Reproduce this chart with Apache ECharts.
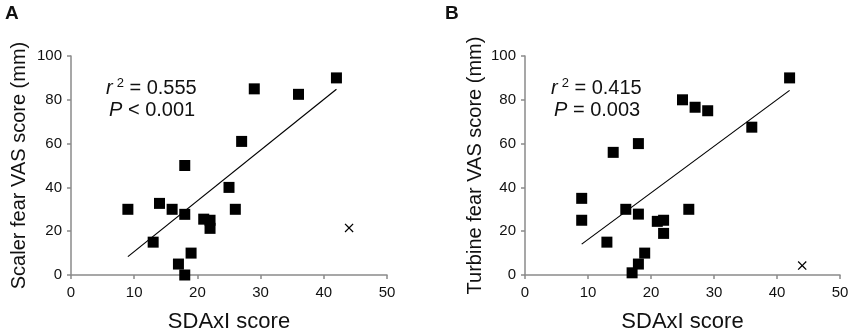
<!DOCTYPE html>
<html>
<head>
<meta charset="utf-8">
<script src="https://cdn.jsdelivr.net/npm/echarts@6/dist/echarts.min.js"></script>
<style>
  html, body { margin: 0; padding: 0; background: #fff; }
  #main { width: 850px; height: 332px; }
</style>
</head>
<body>
<div id="main"></div>
<script>
// panel A - scaler
var sdaxiA = [9, 14, 16, 18, 18, 13, 17, 18, 19, 21, 22, 22, 25, 26, 27, 29, 36, 42];
var scalerVas = [30, 32.7, 30, 27.7, 50, 15, 5, 0, 10, 25.5, 25, 21.3, 40, 30, 61, 85, 82.5, 90];
var outlierA = [44, 21.5];
var fitA = [[9, 8.4], [42, 84.8]];

// panel B - turbine
var sdaxiB = [9, 9, 13, 14, 16, 18, 18, 18, 17, 19, 21, 22, 22, 25, 27, 29, 26, 36, 42];
var turbineVas = [35, 25, 15, 56, 30, 60, 27.8, 5, 1, 10, 24.5, 25, 19, 80, 76.6, 75, 30, 67.5, 90];
var outlierB = [44, 4.3];
var fitB = [[9, 14.1], [42, 84.3]];

var xTicks = [0, 10, 20, 30, 40, 50];
var yTicks = [0, 20, 40, 60, 80, 100];

var chart = echarts.init(document.getElementById('main'));
var font = '"Liberation Sans", Arial, Helvetica, sans-serif';
var axisGray = '#8a8a8a';
var crossSym = 'path://M0,1L1,0L5,4L9,0L10,1L6,5L10,9L9,10L5,6L1,10L0,9L4,5Z';

function pairs(xs, ys) {
    var out = [];
    for (var i = 0; i < xs.length; i++) out.push([xs[i], ys[i]]);
    return out;
}

function xAxisCfg(idx) {
    return {
        type: 'value', gridIndex: idx,
        min: xTicks[0], max: xTicks[xTicks.length - 1], interval: 10,
        name: 'SDAxI score', nameLocation: 'middle', nameGap: 36,
        nameTextStyle: { fontFamily: font, fontSize: 22, color: '#111' },
        axisLine: { show: true, lineStyle: { color: axisGray, width: 1.5 } },
        axisTick: { show: true, length: 4, lineStyle: { color: axisGray, width: 1.5 } },
        axisLabel: { fontFamily: font, fontSize: 15, color: '#111', margin: 10 },
        splitLine: { show: false }
    };
}

function yAxisCfg(idx, name, gap) {
    return {
        type: 'value', gridIndex: idx,
        min: yTicks[0], max: yTicks[yTicks.length - 1], interval: 20,
        name: name, nameLocation: 'middle', nameGap: gap, nameRotate: 90,
        nameTextStyle: { fontFamily: font, fontSize: 20, color: '#111' },
        axisLine: { show: true, lineStyle: { color: axisGray, width: 1.5 } },
        axisTick: { show: true, length: 4, lineStyle: { color: axisGray, width: 1.5 } },
        axisLabel: { fontFamily: font, fontSize: 15, color: '#111', margin: 9 },
        splitLine: { show: false }
    };
}

function stat(left, top, r2Line, pLine) {
    var rich = {
        i: { fontFamily: font, fontSize: 20, fontStyle: 'italic', fill: '#111' },
        s: { fontFamily: font, fontSize: 13, fill: '#111', padding: [0, 0, 10, 4] },
        n: { fontFamily: font, fontSize: 20, fill: '#111' }
    };
    return [
        { type: 'text', left: left, top: top, style: { text: '{i|r}{s|2}{n| = ' + r2Line + '}', rich: rich } },
        { type: 'text', left: left + 3, top: top + 23, style: { text: '{i|P}{n| ' + pLine + '}', rich: rich } }
    ];
}

option = {
    backgroundColor: '#fff',
    animation: false,
    grid: [
        { left: 71, right: 463, top: 56, bottom: 57, outerBoundsMode: 'none' },
        { left: 525, right: 10, top: 56, bottom: 57, outerBoundsMode: 'none' }
    ],
    xAxis: [xAxisCfg(0), xAxisCfg(1)],
    yAxis: [
        yAxisCfg(0, 'Scaler fear VAS score (mm)', 42),
        yAxisCfg(1, 'Turbine fear VAS score (mm)', 40)
    ],
    graphic: [
        { type: 'text', left: 5, top: 4, style: { text: 'A', fontFamily: font, fontSize: 19, fontWeight: 'bold', fill: '#111' } },
        { type: 'text', left: 445, top: 4, style: { text: 'B', fontFamily: font, fontSize: 19, fontWeight: 'bold', fill: '#111' } }
    ].concat(stat(106, 77, '0.555', '< 0.001'), stat(551, 77, '0.415', '= 0.003')),
    series: [
        {
            type: 'line', xAxisIndex: 0, yAxisIndex: 0, data: fitA,
            showSymbol: false, lineStyle: { color: '#000', width: 1.2 }, silent: true
        },
        {
            type: 'scatter', xAxisIndex: 0, yAxisIndex: 0, data: pairs(sdaxiA, scalerVas),
            symbol: 'rect', symbolSize: 11, itemStyle: { color: '#000', opacity: 1 }
        },
        {
            type: 'scatter', xAxisIndex: 0, yAxisIndex: 0, data: [outlierA],
            symbol: crossSym, symbolSize: 9, itemStyle: { color: '#000', opacity: 1 }
        },
        {
            type: 'line', xAxisIndex: 1, yAxisIndex: 1, data: fitB,
            showSymbol: false, lineStyle: { color: '#000', width: 1.2 }, silent: true
        },
        {
            type: 'scatter', xAxisIndex: 1, yAxisIndex: 1, data: pairs(sdaxiB, turbineVas),
            symbol: 'rect', symbolSize: 11, itemStyle: { color: '#000', opacity: 1 }
        },
        {
            type: 'scatter', xAxisIndex: 1, yAxisIndex: 1, data: [outlierB],
            symbol: crossSym, symbolSize: 9, itemStyle: { color: '#000', opacity: 1 }
        }
    ]
};
chart.setOption(option);
</script>
</body>
</html>
